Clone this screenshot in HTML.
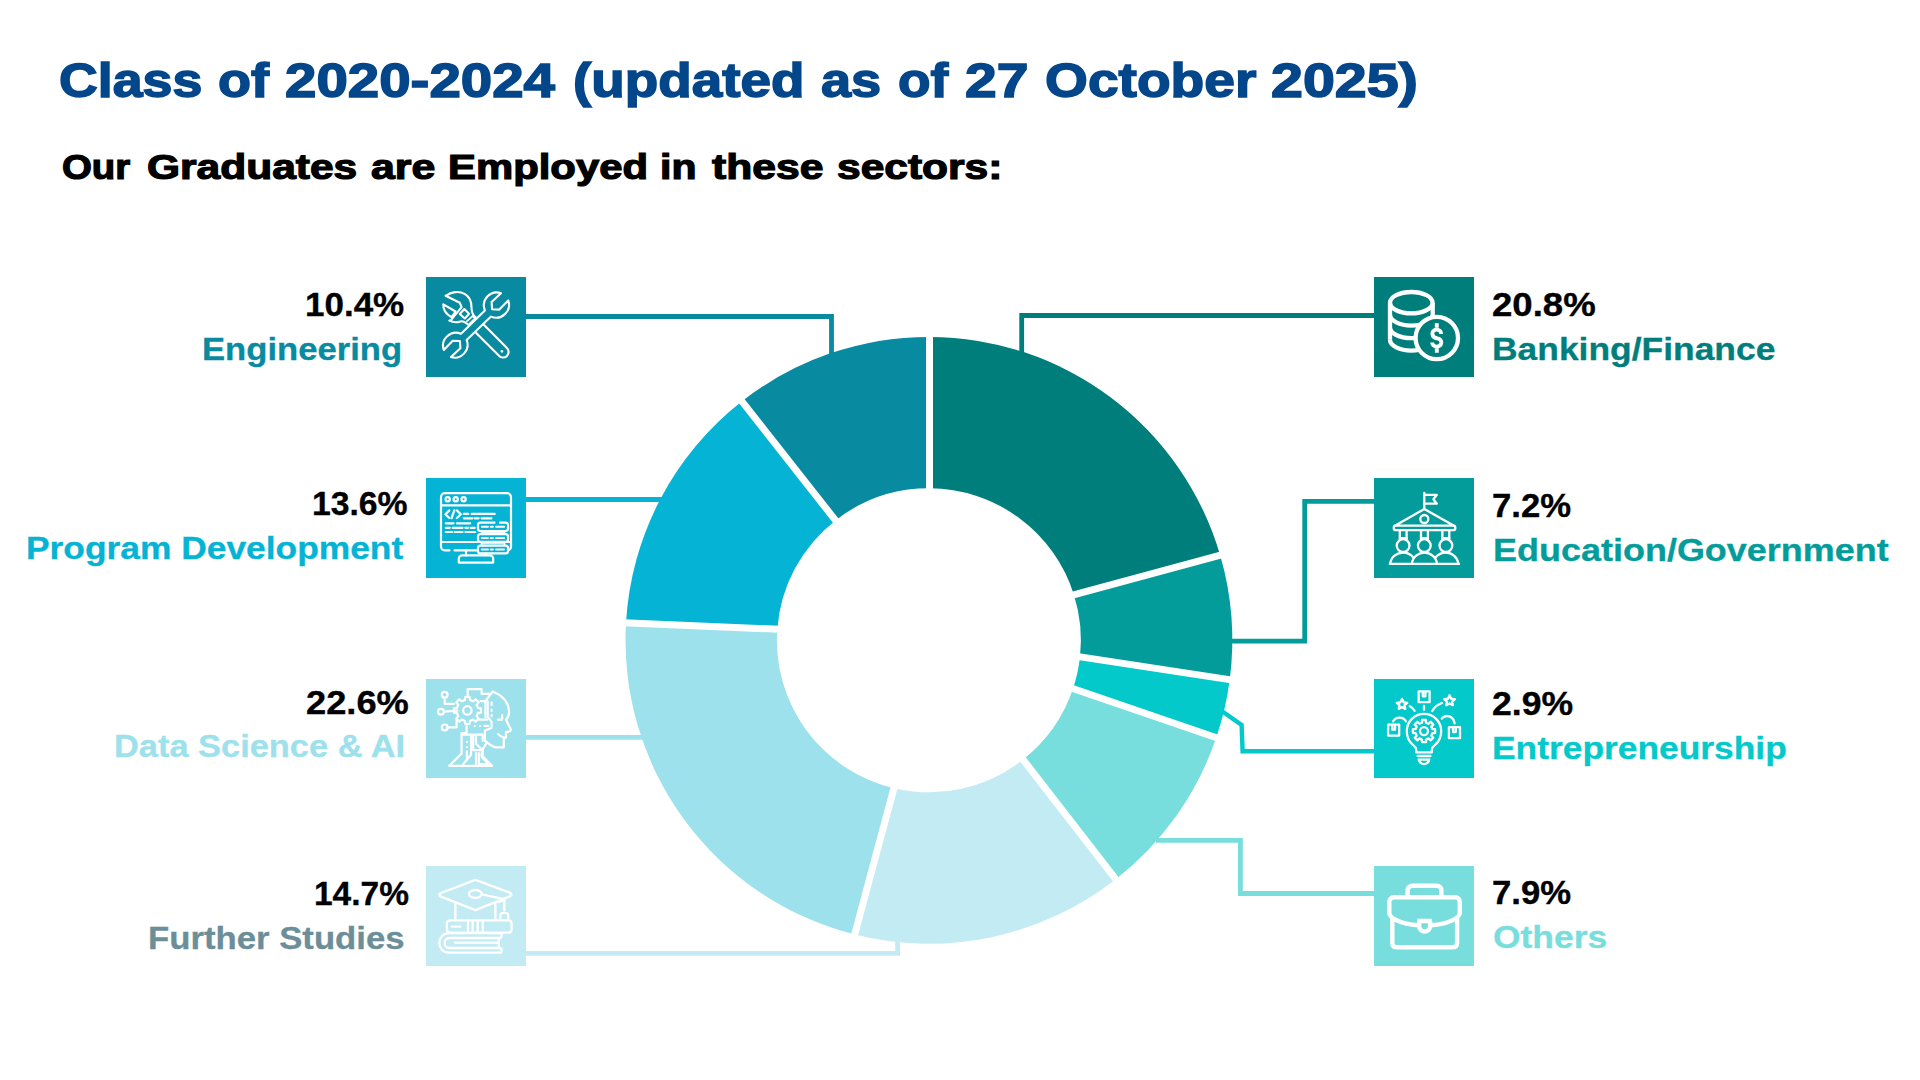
<!DOCTYPE html>
<html lang="en">
<head>
<meta charset="utf-8">
<title>Class of 2020-2024 Graduate Employment Sectors</title>
<style>
html,body{margin:0;padding:0;background:#fff;}
body{width:1920px;height:1080px;position:relative;overflow:hidden;font-family:"Liberation Sans",Arial,sans-serif;}
.chart{position:absolute;left:0;top:0;width:1920px;height:1080px;}
.ibox{position:absolute;width:100px;height:100px;}
.ibox svg{display:block;fill:none;stroke:#fff;stroke-linecap:round;stroke-linejoin:round;}
.t{position:absolute;white-space:nowrap;line-height:1;font-weight:bold;transform-origin:0 50%;}
h1,h2,p{margin:0;font-size:inherit;font-weight:inherit;}
.title{font-size:47.4px;color:#04468A;-webkit-text-stroke:1.5px #04468A;}
.sub{font-size:34.7px;color:#000;-webkit-text-stroke:1.2px #000;}
.pct{font-size:33.1px;color:#000;-webkit-text-stroke:0.35px #000;}
.nm{font-size:30.8px;-webkit-text-stroke:0.3px currentColor;}
</style>
</head>
<body>
<svg class="chart" viewBox="0 0 1920 1080" width="1920" height="1080">
<path d="M929.5,336.9 A303.4,303.4 0 0 1 1220.16,555.33 L1073.96,594.9 A152.0,152.0 0 0 0 929.5,488.3 Z" fill="#007E7C"/>
<path d="M1220.16,555.33 A303.4,303.4 0 0 1 1229.74,679.65 L1080,656.8 A152.0,152.0 0 0 0 1073.96,594.9 Z" fill="#039C9B"/>
<path d="M1229.74,679.65 A303.4,303.4 0 0 1 1216.27,737.62 L1073.03,688.58 A152.0,152.0 0 0 0 1080,656.8 Z" fill="#03C9CB"/>
<path d="M1216.27,737.62 A303.4,303.4 0 0 1 1115.82,879.29 L1023.1,759.59 A152.0,152.0 0 0 0 1073.03,688.58 Z" fill="#78DEDD"/>
<path d="M1115.82,879.29 A303.4,303.4 0 0 1 854.68,934.48 L893.9,788.21 A152.0,152.0 0 0 0 1023.1,759.59 Z" fill="#C3EBF3"/>
<path d="M854.68,934.48 A303.4,303.4 0 0 1 626.01,622.79 L777.31,629.2 A152.0,152.0 0 0 0 893.9,788.21 Z" fill="#9DE1ED"/>
<path d="M626.01,622.79 A303.4,303.4 0 0 1 741.97,401.33 L835.5,520.38 A152.0,152.0 0 0 0 777.31,629.2 Z" fill="#05B3D4"/>
<path d="M741.97,401.33 A303.4,303.4 0 0 1 929.5,336.9 L929.5,488.3 A152.0,152.0 0 0 0 835.5,520.38 Z" fill="#088AA1"/>
<g stroke="#fff" stroke-width="7">
<line x1="929.5" y1="496.3" x2="929.5" y2="328.9"/>
<line x1="1066.24" y1="596.99" x2="1227.88" y2="553.24"/>
<line x1="1072.09" y1="655.59" x2="1237.65" y2="680.86"/>
<line x1="1065.46" y1="685.99" x2="1223.84" y2="740.21"/>
<line x1="1018.2" y1="753.27" x2="1120.72" y2="885.61"/>
<line x1="895.97" y1="780.49" x2="852.61" y2="942.21"/>
<line x1="785.3" y1="629.54" x2="618.01" y2="622.45"/>
<line x1="840.44" y1="526.67" x2="737.02" y2="395.04"/>
</g>
<g fill="none" stroke-width="4.8" stroke-linejoin="miter" stroke-linecap="butt">
<path d="M526,316.5 H831.5 V358" stroke="#088AA1"/>
<path d="M526,499.5 H668" stroke="#05B3D4"/>
<path d="M526,737.3 H648" stroke="#9DE1ED"/>
<path d="M526,953.4 H897.6 V940" stroke="#C3EBF3"/>
<path d="M1374,315.5 H1021.7 V356" stroke="#007E7C"/>
<path d="M1374,501.4 H1304.7 V641.2 H1229" stroke="#039C9B"/>
<path d="M1374,751.3 H1242.6 L1241.6,725 L1221,710.5" stroke="#03C9CB" stroke-width="4.4"/>
<path d="M1374,893.5 H1240.4 V840.4 H1156" stroke="#78DEDD"/>
</g>
</svg>
<div class="ibox" style="left:426px;top:277px;height:100px;background:#088AA1"><svg viewBox="0 0 100 100" width="100" height="100"><g stroke-width="2.1">
<path d="M50.2,55.9 L72.8,78.6 A5.6,5.6 0 1 0 80.7,70.7 L57.6,47.6"/>
<circle cx="75.9" cy="74.3" r="0.7" stroke-width="1.4"/>
<path d="M19.8,18.8 C25,14.8 33,13.6 39,17.1 C44,20.2 45.6,25 45.5,30.5 C45.6,35 46.6,38.6 50,40.6"/>
<path d="M19.6,18.8 L33.8,25.8 L35.6,30.2 L25.4,42.6 L23.3,43.6 C27,45.4 31.5,45.4 34.5,44.4 C37.5,43.5 39.5,45.3 41.9,47.4"/>
<path d="M17.3,27.3 L29.6,34.5 L25.6,40.2 C20.5,37.5 17,32.5 17.3,27.3 Z"/>
<path d="M38.3,32 L43.1,36.8 L38.8,41.5 L33.8,37 Z"/>
<path d="M41,44.2 L46.7,39 L49,41.4 L43.4,46.8" stroke-width="1.8"/>
<path d="M75,16.2 L65.6,25.1 L66.1,32.3 L73.3,32.6 L82.2,23.4 A12.9,12.9 0 0 1 65,39.6 L40.6,62.9 A12.9,12.9 0 0 1 25,80.1 L34.4,71.2 L33.9,64 L26.7,63.7 L17.8,72.9 A12.9,12.9 0 0 1 35,56.8 L58.9,33.4 A12.9,12.9 0 0 1 75,16.2 Z"/>
</g>
</svg></div>
<div class="ibox" style="left:426px;top:478px;height:100px;background:#05B3D4"><svg viewBox="0 0 100 100" width="100" height="100"><g stroke-width="2.2">
<path d="M23.5,72.4 H19 A4,4 0 0 1 15,68.4 V19.2 A4,4 0 0 1 19,15.2 H81 A4,4 0 0 1 85,19.2 V68.5 A4,4 0 0 1 82.3,72.2"/>
<path d="M28.5,72.4 H51.5"/>
<path d="M15,27.3 H85"/>
<path d="M15,64 H51.8 M79,64 H85"/>
<circle cx="21.7" cy="21.2" r="2.1"/><circle cx="29.7" cy="21.2" r="2.1"/><circle cx="37.6" cy="21.2" r="2.1"/>
<path d="M23.3,32.4 L19.4,36.2 L23.3,40 M28.4,32.2 L25.6,40.1 M30.9,32.4 L34.8,36.2 L30.9,40"/>
<path d="M37.8,35.9 H42.2 M45.6,35.9 H68.7 M37.8,40.3 H46.5 M48.9,40.3 H52.6 M55.6,40.3 H65.4 M19.8,45.3 H27.6 M30.9,45.3 H44.2 M19.8,49.8 H23.7 M26.7,49.8 H36.5 M39.4,49.8 H42 M44.6,49.8 H48.7 M19.8,54 H26 M28.6,54 H36.5 M39.4,54 H49.2"/>
<path d="M68.5,44.7 H54.4 A2.4,2.4 0 0 0 52,47.1 V50.6 A2.4,2.4 0 0 0 54.4,53 H79.6 A2.4,2.4 0 0 0 82,50.6 V47.1 A2.4,2.4 0 0 0 79.6,44.7 H74"/>
<rect x="52" y="56.2" width="30" height="7.6" rx="2.4"/>
<rect x="52" y="67.6" width="30" height="7.8" rx="2.4"/>
<path d="M55.6,53 V56.2 M78.4,53 V56.2 M55.6,63.8 V67.6 M78.4,63.8 V67.6" stroke-width="1.8"/>
<path d="M56.5,54.6 H77.5 M56.5,65.7 H77.5" stroke-width="1"/>
<path d="M55.8,48.8 H62 M64.6,48.8 H67 M70,48.8 H78.2 M55.8,60.1 H62 M64.6,60.1 H67 M70,60.1 H78.2 M55.8,71.5 H62 M64.6,71.5 H67 M70,71.5 H78.2" stroke-width="1.9"/>
<path d="M40,72.4 V77.3 M59.8,75.4 V77.3"/>
<path d="M36,77.3 H64 A3.2,3.2 0 0 1 67.2,80.5 V84.6 H32.8 V80.5 A3.2,3.2 0 0 1 36,77.3 Z"/>
</g>
</svg></div>
<div class="ibox" style="left:426px;top:679px;height:99px;background:#9DE1ED"><svg viewBox="0 0 100 100" width="100" height="100"><g stroke-width="2.2">
<circle cx="18.7" cy="15.7" r="2.9"/>
<circle cx="14.9" cy="32.7" r="2.9"/>
<circle cx="18.7" cy="48.4" r="2.9"/>
<circle cx="41.4" cy="31.4" r="4.2"/>
<path d="M 18.7,19.0 L 18.7,24.8 L 28.0,24.8"/>
<path d="M 18.0,32.7 L 31.3,31.7"/>
<path d="M 22.0,48.4 L 30.6,48.4 L 30.6,41.4"/>
<path d="M 39.0,20.9 L 39.3,17.9 L 43.6,17.9 L 43.9,20.9 L 47.1,22.3 L 49.6,20.3 L 52.6,23.3 L 50.6,25.8 L 52.0,29.0 L 55.0,29.3 L 55.0,33.6 L 52.0,33.9 L 50.6,37.1 L 52.6,39.6 L 49.6,42.6 L 47.1,40.6 L 43.9,42.0 L 43.6,45.0 L 39.3,45.0 L 39.0,42.0 L 35.8,40.6 L 33.3,42.6 L 30.3,39.6 L 32.3,37.1 L 30.9,33.9 L 27.9,33.6 L 27.9,29.3 L 30.9,29.0 L 32.3,25.8 L 30.3,23.3 L 33.3,20.3 L 35.8,22.3 Z"/>
<path d="M 41.7,16.2 L 41.7,10.1 L 55.6,10.1 L 55.6,14.8 L 64.2,14.8"/>
<path d="M 66.7,12.6 C 74.4,15.7 82.8,22.3 83.1,33.4 C 83.1,36.8 81.7,39.0 80.0,40.7 L 85.0,50.9 C 84.4,52.6 83.3,53.1 80.0,52.9 L 80.0,58.1 L 77.8,60.1 L 77.8,68.4 L 69.4,68.4 C 65.6,66.8 62.2,64.6 58.9,61.8"/>
<path d="M 66.7,12.6 L 59.4,22.1 L 54.4,22.1"/>
<path d="M 59.4,22.3 L 59.4,37.9"/>
<path d="M 61.7,22.3 L 61.7,37.9 L 65.6,42.9 L 65.6,48.8 L 58.9,51.8 L 58.9,61.8"/>
<path d="M 53.3,40.7 L 61.1,40.7"/>
<path d="M 58.3,46.8 L 62.2,46.8"/>
<path d="M 65.6,23.4 L 65.6,26.2 M 65.6,30.7 L 65.6,32.1 M 65.6,35.9 L 65.6,37.3"/>
<path d="M 72.0,40.7 L 76.1,40.7 L 76.1,36.2"/>
<path d="M 72.0,54.9 C 73.3,56.8 75.6,57.9 78.0,58.4"/>
<path d="M 48.7,47.1 L 48.8,47.1 M 53.9,47.1 L 54.0,47.1"/>
<path d="M 40.6,47.0 L 40.6,54.0 L 35.6,54.0 L 35.6,74.6 L 23.3,86.8 L 66.1,86.8 L 56.7,77.3 L 56.7,70.1 L 61.1,63.2"/>
<path d="M 35.6,55.7 L 56.7,55.7 L 56.7,61.8"/>
<path d="M 45.0,56.2 L 45.0,75.7 L 37.2,85.1"/>
<path d="M 47.2,56.2 L 47.2,71.2 L 55.6,71.2"/>
<path d="M 50.0,56.2 L 50.0,64.6 L 56.1,70.7"/>
<path d="M 50.0,74.0 L 50.0,85.1 M 52.8,74.0 L 52.8,85.1 L 62.2,85.1 M 55.6,74.0 L 55.6,77.9 L 62.2,84.6"/>
<path d="M 40.9,62.9 L 40.9,63.0 M 40.9,68.1 L 40.9,68.2 M 40.9,72.3 L 40.9,81.2"/>
</g>
</svg></div>
<div class="ibox" style="left:426px;top:866px;height:100px;background:#C3EBF3"><svg viewBox="0 0 100 100" width="100" height="100"><g stroke-width="2.3">
<ellipse cx="49.4" cy="28.0" rx="6.4" ry="4.0"/>
<path d="M 49.4,13.9 L 83.9,26.7 C 86.1,27.6 86.1,29.4 83.9,30.2 L 49.4,44.1 L 15.0,30.6 C 12.8,29.7 12.8,28.0 15.0,27.0 Z"/>
<path d="M 56.7,28.7 L 78.3,33.1 L 78.3,44.4"/>
<path d="M 74.4,53.9 L 74.4,48.9 C 74.4,46.1 82.2,46.1 82.2,48.9 L 82.2,53.9"/>
<path d="M 29.4,37.2 L 29.4,54.2 M 69.4,37.8 L 69.4,54.2 M 78.3,33.9 L 72.2,36.3"/>
<path d="M 24.4,54.4 L 82.2,54.4 C 84.4,54.4 85.6,55.8 85.6,57.8 L 85.6,63.3 C 85.6,65.6 84.4,66.7 82.2,66.7 L 24.4,66.7 C 22.2,66.7 20.9,65.6 20.9,63.3 L 20.9,57.8 C 20.9,55.8 22.2,54.4 24.4,54.4 Z"/>
<path d="M 42.0,54.4 L 42.0,66.7 M 46.7,54.4 L 46.7,66.7 M 51.7,54.4 L 51.7,66.7 M 56.7,54.4 L 56.7,66.7"/>
<path d="M 25.6,60.6 L 34.4,60.6"/>
<path d="M 23.3,67.2 L 74.4,67.2 C 76.1,67.2 76.1,71.7 73.9,72.0 L 23.3,72.0 C 17.2,72.0 17.2,82.0 23.3,82.0 L 73.9,82.0 C 76.1,82.2 76.1,86.7 74.4,86.7 L 23.3,86.7 C 10.0,86.7 10.0,67.2 23.3,67.2 Z"/>
<path d="M 28.9,76.7 L 72.8,76.7 M 72.8,72.2 L 72.8,81.8"/>
</g>
</svg></div>
<div class="ibox" style="left:1374px;top:277px;height:100px;background:#007E7C"><svg viewBox="0 0 100 100" width="100" height="100"><g stroke-width="4.3" stroke-linecap="butt">
<ellipse cx="37.3" cy="25.7" rx="21.3" ry="10.7"/>
<path d="M 16.0,25.7 L 16.0,62.8"/>
<path d="M 58.7,25.7 L 58.7,41.2"/>
<path d="M16.0,37.8 A21.3,10.7 0 0 0 58.7,37.8"/>
<path d="M16.0,50.4 A21.3,10.7 0 0 0 58.7,50.4"/>
<path d="M16.0,62.8 A21.3,10.7 0 0 0 58.7,62.8"/>
<circle cx="62.8" cy="61.0" r="21.2" fill="#007E7C"/>
</g>
<g stroke-width="3.9" stroke-linecap="butt">
<path d="M 62.8,46.3 L 62.8,50.8 M 62.8,71.3 L 62.8,75.8"/>
<path d="M 67.2,57.0 C 67.2,54.0 65.0,52.6 62.8,52.6 C 59.4,52.6 58.0,55.1 58.4,57.3 C 58.9,60.1 61.1,61.0 62.8,61.2 C 66.1,61.4 67.4,63.7 67.2,65.9 C 66.9,68.4 64.7,69.6 62.8,69.6 C 60.2,69.6 58.2,67.7 58.2,65.4"/>
</g>
</svg></div>
<div class="ibox" style="left:1374px;top:478px;height:100px;background:#039C9B"><svg viewBox="0 0 100 100" width="100" height="100"><g stroke-width="2.3">
<circle cx="50.3" cy="41.0" r="4.0"/>
<circle cx="29.1" cy="67.6" r="6.4"/>
<circle cx="50.3" cy="67.6" r="6.4"/>
<circle cx="71.9" cy="67.6" r="6.4"/>
<path d="M 50.3,14.8 L 50.3,30.3"/>
<path d="M 50.3,16.8 L 62.8,16.8 L 59.4,21.2 L 62.8,25.7 L 50.3,25.7"/>
<path d="M 50.3,31.0 L 20.9,47.7 L 80.0,47.7 Z"/>
<path d="M 21.7,47.7 C 19.1,47.7 19.1,52.1 21.7,52.1 L 79.4,52.1 C 82.0,52.1 82.0,47.7 79.4,47.7"/>
<path d="M 25.8,52.1 L 25.8,61.2 M 32.6,52.1 L 32.6,61.2 M 47.0,52.1 L 47.0,61.2 M 53.9,52.1 L 53.9,61.2 M 68.4,52.1 L 68.4,61.2 M 75.3,52.1 L 75.3,61.2"/>
<path d="M 25.8,60.1 L 32.6,60.1 M 47.0,60.1 L 53.9,60.1 M 68.4,60.1 L 75.3,60.1"/>
<path d="M 16.1,85.7 C 17.2,78.4 23.3,74.6 29.1,74.6 C 33.3,74.6 37.2,76.8 39.4,79.6"/>
<path d="M 37.8,85.7 C 38.9,78.4 45.0,74.6 50.3,74.6 C 56.1,74.6 62.2,79.0 63.0,85.7"/>
<path d="M 61.3,79.6 C 63.9,76.6 67.8,74.6 71.9,74.6 C 77.8,74.6 83.3,79.0 84.4,85.7"/>
<path d="M 15.8,85.9 L 85.0,85.9"/>
</g>
</svg></div>
<div class="ibox" style="left:1374px;top:679px;height:99px;background:#03C9CB"><svg viewBox="0 0 100 100" width="100" height="100"><g stroke-width="2.3">
<circle cx="50.0" cy="52.1" r="4.0"/>
<path d="M 42.2,73.4 L 42.2,70.7 C 42.2,68.4 40.6,67.3 38.9,65.9 C 34.4,62.3 32.8,57.3 32.8,52.1 C 32.8,42.3 40.6,34.9 50.0,34.9 C 59.4,34.9 67.2,42.3 67.2,52.1 C 67.2,57.3 65.6,62.3 61.1,65.9 C 59.4,67.3 57.8,68.4 57.8,70.7 L 57.8,73.4 Z"/>
<path d="M 43.6,77.0 L 56.4,77.0"/>
<path d="M 44.7,80.7 L 55.3,80.7 C 55.0,83.4 52.2,85.1 50.0,85.1 C 47.8,85.1 45.0,83.4 44.7,80.7 Z"/>
<path d="M 48.0,43.7 L 48.0,41.0 L 52.0,41.0 L 52.0,43.7 L 54.6,44.8 L 56.6,42.8 L 59.3,45.6 L 57.3,47.6 L 58.4,50.1 L 61.1,50.1 L 61.1,54.1 L 58.4,54.1 L 57.3,56.7 L 59.3,58.7 L 56.6,61.4 L 54.6,59.4 L 52.0,60.6 L 52.0,63.2 L 48.0,63.2 L 48.0,60.6 L 45.4,59.4 L 43.4,61.4 L 40.7,58.7 L 42.7,56.7 L 41.6,54.1 L 38.9,54.1 L 38.9,50.1 L 41.6,50.1 L 42.7,47.6 L 40.7,45.6 L 43.4,42.8 L 45.4,44.8 Z"/>
<path d="M 44.7,12.3 L 55.6,12.3 L 55.6,23.2 L 44.7,23.2 Z M 48.8,12.3 L 48.8,17.3 L 51.4,17.3 L 51.4,12.3"/>
<path d="M 14.1,45.7 L 25.2,45.7 L 25.2,56.6 L 14.1,56.6 Z M 18.3,45.7 L 18.3,50.7 L 21.0,50.7 L 21.0,45.7"/>
<path d="M 74.9,48.1 L 86.0,48.1 L 86.0,59.2 L 74.9,59.2 Z M 79.1,48.1 L 79.1,53.1 L 81.8,53.1 L 81.8,48.1"/>
<path d="M 50.0,27.0 L 50.0,30.7"/>
<path d="M 28.0,19.9 L 29.6,23.3 L 33.3,23.8 L 30.6,26.2 L 31.2,29.9 L 28.0,28.1 L 24.8,29.9 L 25.4,26.2 L 22.7,23.8 L 26.4,23.3 Z"/>
<path d="M 75.6,16.2 L 77.1,19.7 L 80.9,20.1 L 78.1,22.6 L 78.8,26.2 L 75.6,24.4 L 72.3,26.2 L 73.0,22.6 L 70.2,20.1 L 74.0,19.7 Z"/>
<path d="M 19.1,42.3 C 22.2,37.3 28.9,37.3 32.0,42.3"/>
<path d="M 67.8,39.6 C 72.2,34.6 79.4,37.3 80.6,44.3"/>
<path d="M 35.8,27.3 C 38.0,28.4 39.7,29.9 40.6,31.8"/>
<path d="M 58.3,32.1 C 60.0,28.4 63.3,25.7 68.0,24.0"/>
</g>
</svg></div>
<div class="ibox" style="left:1374px;top:866px;height:100px;background:#78DEDD"><svg viewBox="0 0 100 100" width="100" height="100"><g stroke-width="4.4" stroke-linecap="butt">
<path d="M 33.6,29.4 L 33.6,24.7 C 33.6,21.7 35.6,19.8 38.6,19.8 L 62.6,19.8 C 65.6,19.8 67.4,21.7 67.4,24.7 L 67.4,29.4"/>
<path d="M 15.3,46.7 L 15.3,36.1 C 15.3,33.1 17.2,31.3 20.2,31.3 L 80.9,31.3 C 83.9,31.3 85.8,33.1 85.8,36.1 L 85.8,46.7 C 85.8,52.2 74.4,58.0 57.6,59.3 M 43.6,59.3 C 26.7,58.0 15.3,52.2 15.3,46.7"/>
<path d="M 18.3,52.8 L 18.3,76.9 C 18.3,79.8 20.0,81.3 23.0,81.3 L 78.3,81.3 C 81.3,81.3 83.1,79.8 83.1,76.9 L 83.1,52.8"/>
<path d="M 43.3,55.0 L 57.8,55.0 M 45.2,55.0 L 45.2,60.2 C 45.2,67.2 56.1,67.2 56.1,60.2 L 56.1,55.0"/>
</g>
</svg></div>

<h1><span class="t title" style="left:58.58px;top:56.78px;transform:scaleX(1.1331);">Class</span> <span class="t title" style="left:217.61px;top:56.78px;transform:scaleX(1.1404);">of</span> <span class="t title" style="left:285.06px;top:56.78px;transform:scaleX(1.1914);">2020-2024</span> <span class="t title" style="left:573.26px;top:56.78px;transform:scaleX(1.1567);">(updated</span> <span class="t title" style="left:821.14px;top:56.78px;transform:scaleX(1.1429);">as</span> <span class="t title" style="left:897.63px;top:56.78px;transform:scaleX(1.1236);">of</span> <span class="t title" style="left:965.05px;top:56.78px;transform:scaleX(1.2030);">27</span> <span class="t title" style="left:1044.80px;top:56.78px;transform:scaleX(1.1634);">October</span> <span class="t title" style="left:1270.79px;top:56.78px;transform:scaleX(1.2110);">2025)</span></h1>
<h2><span class="t sub" style="left:62.17px;top:150.43px;transform:scaleX(1.1066);">Our</span> <span class="t sub" style="left:147.08px;top:150.43px;transform:scaleX(1.2250);">Graduates</span> <span class="t sub" style="left:371.38px;top:150.43px;transform:scaleX(1.2353);">are</span> <span class="t sub" style="left:448.39px;top:150.43px;transform:scaleX(1.2065);">Employed</span> <span class="t sub" style="left:660.43px;top:150.43px;transform:scaleX(1.1818);">in</span> <span class="t sub" style="left:712.31px;top:150.43px;transform:scaleX(1.2299);">these</span> <span class="t sub" style="left:837.39px;top:150.43px;transform:scaleX(1.2258);">sectors:</span></h2>
<p><span class="t pct" style="left:305.38px;top:288.28px;transform:scaleX(1.0577);">10.4%</span> <span class="t nm" style="left:201.50px;top:334.83px;transform:scaleX(1.1244);color:#088AA1;">Engineering</span></p>
<p><span class="t pct" style="left:311.71px;top:487.38px;transform:scaleX(1.0192);">13.6%</span> <span class="t nm" style="left:26.45px;top:534.43px;transform:scaleX(1.1480);color:#05B3D4;">Program Development</span></p>
<p><span class="t pct" style="left:305.60px;top:685.68px;transform:scaleX(1.0957);">22.6%</span> <span class="t nm" style="left:113.57px;top:732.23px;transform:scaleX(1.1167);color:#9DE1ED;">Data Science &amp; AI</span></p>
<p><span class="t pct" style="left:313.78px;top:876.98px;transform:scaleX(1.0121);">14.7%</span> <span class="t nm" style="left:147.75px;top:923.53px;transform:scaleX(1.1274);color:#6B8E98;">Further Studies</span></p>
<p><span class="t pct" style="left:1492.19px;top:288.28px;transform:scaleX(1.1054);">20.8%</span> <span class="t nm" style="left:1492.40px;top:335.33px;transform:scaleX(1.1499);color:#007E7C;">Banking/Finance</span></p>
<p><span class="t pct" style="left:1491.79px;top:488.98px;transform:scaleX(1.0476);">7.2%</span> <span class="t nm" style="left:1492.56px;top:535.53px;transform:scaleX(1.1682);color:#039C9B;">Education/Government</span></p>
<p><span class="t pct" style="left:1492.23px;top:686.98px;transform:scaleX(1.0739);">2.9%</span> <span class="t nm" style="left:1492.40px;top:734.23px;transform:scaleX(1.1483);color:#03C9CB;">Entrepreneurship</span></p>
<p><span class="t pct" style="left:1491.99px;top:875.68px;transform:scaleX(1.0476);">7.9%</span> <span class="t nm" style="left:1492.55px;top:922.73px;transform:scaleX(1.1505);color:#78DEDD;">Others</span></p>

</body>
</html>
